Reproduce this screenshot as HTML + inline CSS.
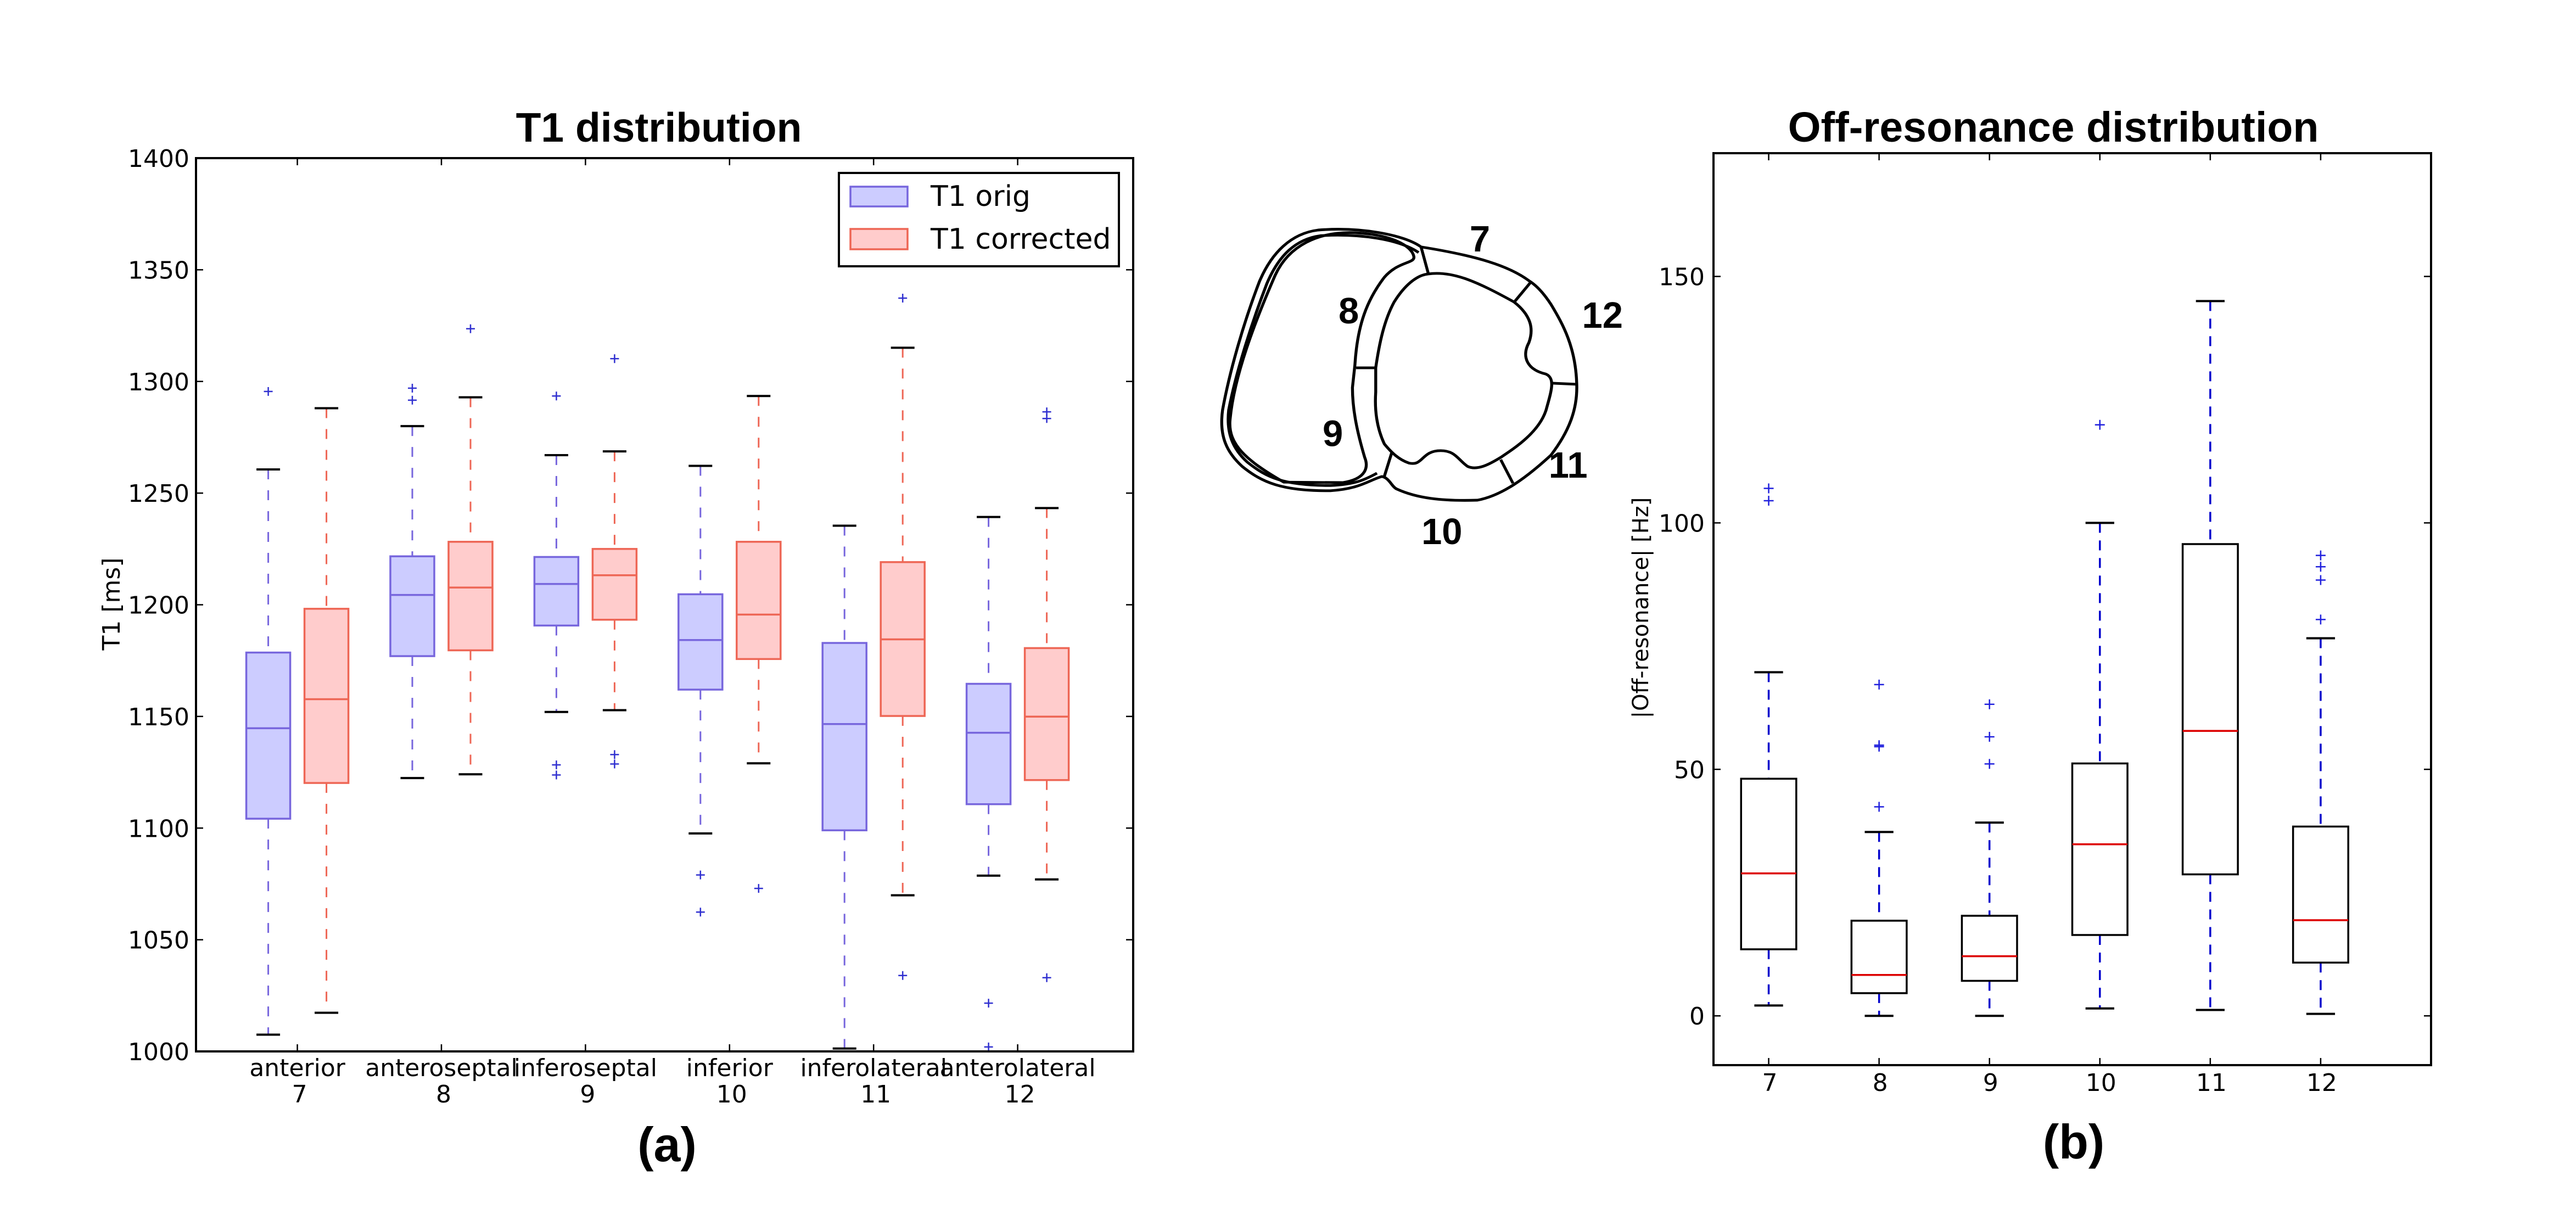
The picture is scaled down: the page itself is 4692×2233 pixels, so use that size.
<!DOCTYPE html>
<html><head><meta charset="utf-8"><style>
html,body{margin:0;padding:0;background:#fff;}
svg{display:block;}
</style></head><body>
<svg id="fig" xmlns="http://www.w3.org/2000/svg" width="4692" height="2233" viewBox="0 0 4692 2233">
<rect width="4692" height="2233" fill="#fff"/>
<g id="left"></g>
<g id="right"></g>
<g transform="translate(2200,378) scale(0.4464,0.41)" fill="none" stroke="#000" stroke-width="12" stroke-linejoin="round">
<path d="M870,175 C800,120 620,85 450,100 C340,115 260,200 210,330 C150,500 90,720 60,900 C45,1020 80,1090 140,1150 C220,1220 300,1260 500,1258 C620,1250 660,1210 710,1195 C740,1200 750,1240 770,1250 C850,1290 950,1305 1100,1300 C1200,1280 1300,1200 1400,1100 C1470,1000 1510,900 1505,780 C1500,620 1450,520 1400,430 C1370,380 1340,345 1310,325 C1230,260 1100,215 870,175 Z"/>
<path d="M860,200 C780,140 620,115 460,125 C360,140 290,210 240,340 C180,510 115,730 85,900 C75,1000 100,1070 160,1130 C240,1200 310,1235 500,1235 C600,1230 640,1210 690,1180"/>
<path d="M840,215 C830,170 750,120 600,112 C450,105 330,170 275,300 C195,500 105,750 90,950 C85,1050 150,1120 310,1220 L550,1222 C650,1205 655,1150 640,1110 C610,1000 590,900 590,800 L600,700 C610,520 650,410 720,310 C780,235 850,250 840,215 Z"/>
<path d="M900,295 C1000,280 1100,330 1250,420 C1320,480 1330,540 1310,600 C1280,660 1300,720 1380,740 C1420,760 1400,820 1380,900 C1350,1000 1250,1070 1195,1110 C1150,1140 1100,1170 1060,1150 C1020,1120 1010,1080 950,1080 C870,1080 880,1150 820,1135 C780,1120 750,1090 720,1050 C690,980 680,900 685,820 L685,712 C700,600 720,500 760,420 C800,350 850,300 900,295 Z"/>
<path d="M870,175 L900,295 M605,712 L685,712 M750,1090 L720,1195 M1195,1120 L1245,1225 M1400,780 L1500,785 M1250,420 L1315,335"/>
<g fill="#000" stroke="none" font-family="Liberation Sans, sans-serif" font-weight="bold" font-size="150" text-anchor="middle" transform="scale(1,1.089)">
<text x="1110" y="179">7</text>
<text x="575" y="473">8</text>
<text x="510" y="973">9</text>
<text x="955" y="1373">10</text>
<text x="1470" y="1102">11</text>
<text x="1610" y="490">12</text>
</g>
</g>
</svg>
<script>
// ---- T1 chart data ----
const t1Categories = ["anterior","anteroseptal","inferoseptal","inferior","inferolateral","anterolateral"];
const t1Segments = ["7","8","9","10","11","12"];
const t1OrigLow    = [1007.5,1122.4,1152.0,1097.6,1001.3,1078.7];
const t1OrigQ1     = [1104.2,1177.0,1190.7,1162.0,1099.0,1110.7];
const t1OrigMed    = [1144.7,1204.4,1209.3,1184.2,1146.6,1142.7];
const t1OrigQ3     = [1178.6,1221.7,1221.4,1204.7,1182.9,1164.6];
const t1OrigHigh   = [1260.6,1280.0,1267.0,1262.2,1235.4,1239.3];
const t1OrigOut    = [[1295.5],[1297,1291.6],[1293.5,1128.3,1123.8],[1079,1062.4],[],[1021.6,1002]];
const t1CorrLow    = [1017.3,1124.1,1152.8,1129.0,1069.9,1077.0];
const t1CorrQ1     = [1120.2,1179.6,1193.3,1175.7,1150.2,1121.5];
const t1CorrMed    = [1157.7,1207.7,1213.2,1195.6,1184.5,1149.9];
const t1CorrQ3     = [1198.2,1228.2,1225.0,1228.2,1219.1,1180.6];
const t1CorrHigh   = [1288.0,1292.9,1268.7,1293.5,1315.1,1243.3];
const t1CorrOut    = [[],[1323.6],[1310.2,1132.9,1128.7],[1073],[1337.3,1034],[1286.4,1283.4,1033]];
const t1Ticks = [1000,1050,1100,1150,1200,1250,1300,1350,1400];
// ---- Off-resonance data ----
const offCategories = ["7","8","9","10","11","12"];
const offLow  = [2.1,0,0,1.5,1.2,0.4];
const offQ1   = [13.5,4.6,7.1,16.4,28.7,10.8];
const offMed  = [28.9,8.3,12.1,34.8,57.8,19.4];
const offQ3   = [48.1,19.3,20.3,51.2,95.7,38.4];
const offHigh = [69.7,37.3,39.2,100,145,76.6];
const offOut  = [[107,104.5],[67.2,54.9,54.6,42.4],[63.2,56.6,51.1],[119.9],[],[93.4,91.1,88.4,80.4]];
const offTicks = [0,50,100,150];

const NS="http://www.w3.org/2000/svg";
function mk(parent,tag,attrs){const e=document.createElementNS(NS,tag);for(const k in attrs)e.setAttribute(k,attrs[k]);parent.appendChild(e);return e;}

// ===== Left chart =====
(function(){
const g=document.getElementById('left');
const L=357,R=2064,T=288,B=1915;
const y=v=>B-(v-1000)*(B-T)/400;
const x=i=>541.6+262.4*i;
const bw=80,off=53,cap=43;
function drawBox(i,cx,low,q1,med,q3,high,outs,fill,stroke,name){
  const w1=mk(g,'line',{x1:cx,x2:cx,y1:y(high),y2:y(q3),stroke:stroke,'stroke-width':3,'stroke-dasharray':'18,20'});
  
  
  const w2=mk(g,'line',{x1:cx,x2:cx,y1:y(q1),y2:y(low),stroke:stroke,'stroke-width':3,'stroke-dasharray':'18,20'});
  
  
  const b=mk(g,'rect',{x:cx-bw/2,y:y(q3),width:bw,height:y(q1)-y(q3),fill:fill,stroke:stroke,'stroke-width':3.5});
  
  
  const m=mk(g,'line',{x1:cx-bw/2,x2:cx+bw/2,y1:y(med),y2:y(med),stroke:stroke,'stroke-width':3.5});
  
  
  [high,low].forEach(v=>{const c=mk(g,'line',{x1:cx-cap/2,x2:cx+cap/2,y1:y(v),y2:y(v),stroke:'#000','stroke-width':4});
    
    });
  outs.forEach(v=>{const p=mk(g,'path',{d:`M${cx-8},${y(v)}h16M${cx},${y(v)-8}v16`,stroke:'#3030d0','stroke-width':2.5});
    
    });
}
t1Categories.forEach((c,i)=>{
  drawBox(i,x(i)-off,t1OrigLow[i],t1OrigQ1[i],t1OrigMed[i],t1OrigQ3[i],t1OrigHigh[i],t1OrigOut[i],'#ccccff','#7766dd','t1-orig-'+t1Segments[i]);
  drawBox(i,x(i)+off,t1CorrLow[i],t1CorrQ1[i],t1CorrMed[i],t1CorrQ3[i],t1CorrHigh[i],t1CorrOut[i],'#ffcccc','#ee6655','t1-corrected-'+t1Segments[i]);
});
const fr=mk(g,'rect',{x:L,y:T,width:R-L,height:B-T,fill:'none',stroke:'#000','stroke-width':4});


t1Ticks.forEach(v=>{
  const t=mk(g,'path',{d:`M${L},${y(v)}h13M${R},${y(v)}h-13`,stroke:'#000','stroke-width':2.5});
  
  
  const l=mk(g,'text',{x:L-12,y:y(v)+16,'text-anchor':'end','font-family':'DejaVu Sans, sans-serif','font-size':44});
  l.textContent=v;
  
  
});
t1Categories.forEach((c,i)=>{
  const t=mk(g,'path',{d:`M${x(i)},${B}v-13M${x(i)},${T}v13`,stroke:'#000','stroke-width':2.5});
  
  
  const l=mk(g,'text',{x:x(i),y:1960,'text-anchor':'middle','font-family':'DejaVu Sans, sans-serif','font-size':44});
  l.textContent=c;
  
  
  const l2=mk(g,'text',{x:x(i)+4,y:2008,'text-anchor':'middle','font-family':'DejaVu Sans, sans-serif','font-size':44});
  l2.textContent=t1Segments[i];
  
  
});
const ti=mk(g,'text',{x:1200,y:258,'text-anchor':'middle','font-family':'Liberation Sans, sans-serif','font-weight':'bold','font-size':75});
ti.textContent='T1 distribution';


const yl=mk(g,'text',{x:0,y:0,transform:'translate(218,1100) rotate(-90)','text-anchor':'middle','font-family':'DejaVu Sans, sans-serif','font-size':44});
yl.textContent='T1 [ms]';


const pa=mk(g,'text',{x:1215,y:2115,'text-anchor':'middle','font-family':'Liberation Sans, sans-serif','font-weight':'bold','font-size':88});
pa.textContent='(a)';


// legend
const lg=mk(g,'g',{});


mk(lg,'rect',{x:1528,y:315,width:510,height:170,fill:'#fff',stroke:'#000','stroke-width':4});
const e1=mk(lg,'rect',{x:1549,y:340,width:104,height:36,fill:'#ccccff',stroke:'#7766dd','stroke-width':3.5});


const e2=mk(lg,'rect',{x:1549,y:417,width:104,height:37,fill:'#ffcccc',stroke:'#ee6655','stroke-width':3.5});


const lt1=mk(lg,'text',{x:1695,y:375,'font-family':'DejaVu Sans, sans-serif','font-size':52});
lt1.textContent='T1 orig';


const lt2=mk(lg,'text',{x:1695,y:453,'font-family':'DejaVu Sans, sans-serif','font-size':52});
lt2.textContent='T1 corrected';


})();

// ===== Right chart =====
(function(){
const g=document.getElementById('right');
const L=3121,R=4428,T=279,B=1940;
const y=v=>B-(v+10)*(B-T)/185;
const ux=(R-L)/6.5;
const x=i=>L+(i+0.5)*ux;
const bw=0.5*ux,cap=0.26*ux;
offCategories.forEach((c,i)=>{
  const cx=x(i),n='off-resonance-'+c;
  const w1=mk(g,'line',{x1:cx,x2:cx,y1:y(offHigh[i]),y2:y(offQ3[i]),stroke:'#0000cc','stroke-width':3.5,'stroke-dasharray':'18,14'});
  
  
  const w2=mk(g,'line',{x1:cx,x2:cx,y1:y(offQ1[i]),y2:y(offLow[i]),stroke:'#0000cc','stroke-width':3.5,'stroke-dasharray':'18,14'});
  
  
  const b=mk(g,'rect',{x:cx-bw/2,y:y(offQ3[i]),width:bw,height:y(offQ1[i])-y(offQ3[i]),fill:'none',stroke:'#000','stroke-width':3.5});
  
  
  const m=mk(g,'line',{x1:cx-bw/2,x2:cx+bw/2,y1:y(offMed[i]),y2:y(offMed[i]),stroke:'#dd0000','stroke-width':3.5});
  
  
  [offHigh[i],offLow[i]].forEach(v=>{const cp=mk(g,'line',{x1:cx-cap/2,x2:cx+cap/2,y1:y(v),y2:y(v),stroke:'#000','stroke-width':4});
    
    });
  offOut[i].forEach(v=>{const p=mk(g,'path',{d:`M${cx-9},${y(v)}h18M${cx},${y(v)-9}v18`,stroke:'#2020dd','stroke-width':2.5});
    
    });
  const t=mk(g,'path',{d:`M${cx},${B}v-13M${cx},${T}v13`,stroke:'#000','stroke-width':2.5});
  
  
  const l=mk(g,'text',{x:cx+2,y:1987,'text-anchor':'middle','font-family':'DejaVu Sans, sans-serif','font-size':44});
  l.textContent=c;
  
  
});
const fr=mk(g,'rect',{x:L,y:T,width:R-L,height:B-T,fill:'none',stroke:'#000','stroke-width':4});


offTicks.forEach(v=>{
  const t=mk(g,'path',{d:`M${L},${y(v)}h13M${R},${y(v)}h-13`,stroke:'#000','stroke-width':2.5});
  
  
  const l=mk(g,'text',{x:L-16,y:y(v)+16,'text-anchor':'end','font-family':'DejaVu Sans, sans-serif','font-size':44});
  l.textContent=v;
  
  
});
const ti=mk(g,'text',{x:3740,y:258,'text-anchor':'middle','font-family':'Liberation Sans, sans-serif','font-weight':'bold','font-size':77});
ti.textContent='Off-resonance distribution';


const yl=mk(g,'text',{x:0,y:0,transform:'translate(3002,1107) rotate(-90)','text-anchor':'middle','font-family':'DejaVu Sans, sans-serif','font-size':40});
yl.textContent='|Off-resonance| [Hz]';


const pb=mk(g,'text',{x:3777,y:2110,'text-anchor':'middle','font-family':'Liberation Sans, sans-serif','font-weight':'bold','font-size':88});
pb.textContent='(b)';


})();
</script>
</body></html>
